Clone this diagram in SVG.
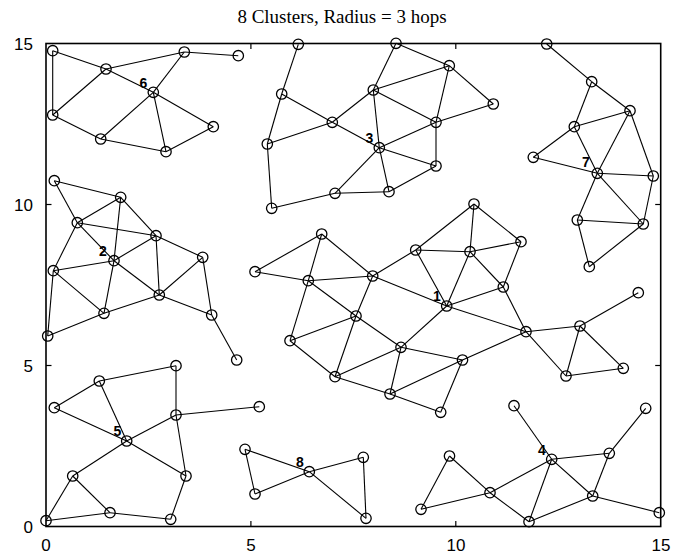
<svg xmlns="http://www.w3.org/2000/svg" width="683" height="556" viewBox="0 0 683 556">
<style>
.bg{fill:#fff}
.frame{fill:none;stroke:#000;stroke-width:1.6}
.tick{stroke:#000;stroke-width:1.2}
.edge line{stroke:#000;stroke-width:1.1}
.node circle{fill:none;stroke:#000;stroke-width:1.3}
.ax{font-family:"Liberation Sans",Arial,sans-serif;font-size:17px;fill:#000}
.title{font-family:"Liberation Serif","Times New Roman",serif;font-size:19px;fill:#000}
.hl{font-family:"Liberation Sans",Arial,sans-serif;font-size:14px;font-weight:bold;fill:#000}
</style>
<rect class="bg" x="0" y="0" width="683" height="556"/>
<text class="title" x="342" y="23" text-anchor="middle">8 Clusters, Radius = 3 hops</text>
<g id="axes">
<rect class="frame" x="46" y="43.5" width="614.7" height="483"/>
<line class="tick" x1="250.9" y1="526.5" x2="250.9" y2="521"/>
<line class="tick" x1="455.8" y1="526.5" x2="455.8" y2="521"/>
<line class="tick" x1="250.9" y1="43.5" x2="250.9" y2="49"/>
<line class="tick" x1="455.8" y1="43.5" x2="455.8" y2="49"/>
<line class="tick" x1="46" y1="365.5" x2="51.5" y2="365.5"/>
<line class="tick" x1="46" y1="204.5" x2="51.5" y2="204.5"/>
<line class="tick" x1="660.7" y1="365.5" x2="655.2" y2="365.5"/>
<line class="tick" x1="660.7" y1="204.5" x2="655.2" y2="204.5"/>
<text class="ax" x="33" y="50" text-anchor="end">15</text>
<text class="ax" x="33" y="211" text-anchor="end">10</text>
<text class="ax" x="33" y="372" text-anchor="end">5</text>
<text class="ax" x="33" y="533" text-anchor="end">0</text>
<text class="ax" x="46" y="551" text-anchor="middle">0</text>
<text class="ax" x="251" y="551" text-anchor="middle">5</text>
<text class="ax" x="456" y="551" text-anchor="middle">10</text>
<text class="ax" x="661" y="551" text-anchor="middle">15</text>
</g>
<g id="connectors" class="edge">
<line x1="52.7" y1="50.7" x2="52.7" y2="115"/>
<line x1="52.7" y1="50.7" x2="106" y2="69"/>
<line x1="106" y1="69" x2="184.3" y2="52"/>
<line x1="184.3" y1="52" x2="238.3" y2="55.7"/>
<line x1="106" y1="69" x2="153.3" y2="92.3"/>
<line x1="184.3" y1="52" x2="153.3" y2="92.3"/>
<line x1="106" y1="69" x2="52.7" y2="115"/>
<line x1="52.7" y1="115" x2="100.7" y2="139"/>
<line x1="100.7" y1="139" x2="153.3" y2="92.3"/>
<line x1="153.3" y1="92.3" x2="166" y2="151.7"/>
<line x1="153.3" y1="92.3" x2="213.3" y2="126.7"/>
<line x1="100.7" y1="139" x2="166" y2="151.7"/>
<line x1="166" y1="151.7" x2="213.3" y2="126.7"/>
<line x1="54.3" y1="180.7" x2="120.7" y2="197.3"/>
<line x1="54.3" y1="180.7" x2="77.3" y2="222.7"/>
<line x1="77.3" y1="222.7" x2="120.7" y2="197.3"/>
<line x1="120.7" y1="197.3" x2="114" y2="260.7"/>
<line x1="120.7" y1="197.3" x2="156" y2="235.7"/>
<line x1="77.3" y1="222.7" x2="156" y2="235.7"/>
<line x1="77.3" y1="222.7" x2="114" y2="260.7"/>
<line x1="77.3" y1="222.7" x2="53.3" y2="270.7"/>
<line x1="53.3" y1="270.7" x2="114" y2="260.7"/>
<line x1="114" y1="260.7" x2="156" y2="235.7"/>
<line x1="156" y1="235.7" x2="202.7" y2="257.3"/>
<line x1="114" y1="260.7" x2="104" y2="313.3"/>
<line x1="114" y1="260.7" x2="159.3" y2="295"/>
<line x1="156" y1="235.7" x2="159.3" y2="295"/>
<line x1="202.7" y1="257.3" x2="159.3" y2="295"/>
<line x1="202.7" y1="257.3" x2="211.7" y2="315"/>
<line x1="53.3" y1="270.7" x2="104" y2="313.3"/>
<line x1="53.3" y1="270.7" x2="47.7" y2="336"/>
<line x1="47.7" y1="336" x2="104" y2="313.3"/>
<line x1="104" y1="313.3" x2="159.3" y2="295"/>
<line x1="159.3" y1="295" x2="211.7" y2="315"/>
<line x1="211.7" y1="315" x2="236.7" y2="360"/>
<line x1="99.3" y1="381" x2="176" y2="365.7"/>
<line x1="176" y1="365.7" x2="176" y2="415"/>
<line x1="99.3" y1="381" x2="54.3" y2="407.7"/>
<line x1="99.3" y1="381" x2="126.7" y2="441"/>
<line x1="54.3" y1="407.7" x2="126.7" y2="441"/>
<line x1="126.7" y1="441" x2="176" y2="415"/>
<line x1="176" y1="415" x2="259.3" y2="406.7"/>
<line x1="126.7" y1="441" x2="72.7" y2="476"/>
<line x1="126.7" y1="441" x2="186" y2="476"/>
<line x1="176" y1="415" x2="186" y2="476"/>
<line x1="72.7" y1="476" x2="110" y2="512.7"/>
<line x1="72.7" y1="476" x2="46" y2="520.7"/>
<line x1="46" y1="520.7" x2="110" y2="512.7"/>
<line x1="110" y1="512.7" x2="170.7" y2="519.3"/>
<line x1="186" y1="476" x2="170.7" y2="519.3"/>
<line x1="245" y1="449.3" x2="255" y2="494"/>
<line x1="245" y1="449.3" x2="309.3" y2="471.7"/>
<line x1="255" y1="494" x2="309.3" y2="471.7"/>
<line x1="309.3" y1="471.7" x2="363.3" y2="457.3"/>
<line x1="309.3" y1="471.7" x2="366" y2="518.3"/>
<line x1="363.3" y1="457.3" x2="366" y2="518.3"/>
<line x1="298.3" y1="44.3" x2="281.7" y2="94"/>
<line x1="281.7" y1="94" x2="267.3" y2="144"/>
<line x1="281.7" y1="94" x2="332.3" y2="122.3"/>
<line x1="267.3" y1="144" x2="332.3" y2="122.3"/>
<line x1="332.3" y1="122.3" x2="373.3" y2="90"/>
<line x1="332.3" y1="122.3" x2="379.3" y2="147.7"/>
<line x1="267.3" y1="144" x2="271.7" y2="208.3"/>
<line x1="271.7" y1="208.3" x2="335" y2="193.3"/>
<line x1="335" y1="193.3" x2="379.3" y2="147.7"/>
<line x1="335" y1="193.3" x2="389" y2="191.7"/>
<line x1="379.3" y1="147.7" x2="389" y2="191.7"/>
<line x1="379.3" y1="147.7" x2="436" y2="166"/>
<line x1="389" y1="191.7" x2="436" y2="166"/>
<line x1="379.3" y1="147.7" x2="436" y2="122.3"/>
<line x1="379.3" y1="147.7" x2="373.3" y2="90"/>
<line x1="373.3" y1="90" x2="396" y2="43.3"/>
<line x1="373.3" y1="90" x2="449.3" y2="65.7"/>
<line x1="373.3" y1="90" x2="436" y2="122.3"/>
<line x1="396" y1="43.3" x2="449.3" y2="65.7"/>
<line x1="449.3" y1="65.7" x2="436" y2="122.3"/>
<line x1="436" y1="122.3" x2="436" y2="166"/>
<line x1="436" y1="122.3" x2="493.3" y2="104"/>
<line x1="449.3" y1="65.7" x2="493.3" y2="104"/>
<line x1="546.7" y1="44" x2="591.7" y2="81.7"/>
<line x1="591.7" y1="81.7" x2="630" y2="110.7"/>
<line x1="591.7" y1="81.7" x2="574.3" y2="126.7"/>
<line x1="574.3" y1="126.7" x2="630" y2="110.7"/>
<line x1="574.3" y1="126.7" x2="533.3" y2="157.3"/>
<line x1="574.3" y1="126.7" x2="597.3" y2="173.3"/>
<line x1="533.3" y1="157.3" x2="597.3" y2="173.3"/>
<line x1="630" y1="110.7" x2="597.3" y2="173.3"/>
<line x1="630" y1="110.7" x2="653.3" y2="176"/>
<line x1="597.3" y1="173.3" x2="653.3" y2="176"/>
<line x1="653.3" y1="176" x2="643.3" y2="224"/>
<line x1="597.3" y1="173.3" x2="643.3" y2="224"/>
<line x1="597.3" y1="173.3" x2="577.3" y2="220"/>
<line x1="577.3" y1="220" x2="643.3" y2="224"/>
<line x1="577.3" y1="220" x2="589.3" y2="266.7"/>
<line x1="589.3" y1="266.7" x2="643.3" y2="224"/>
<line x1="255" y1="271.7" x2="321.7" y2="234"/>
<line x1="255" y1="271.7" x2="308.3" y2="280.7"/>
<line x1="321.7" y1="234" x2="308.3" y2="280.7"/>
<line x1="321.7" y1="234" x2="372.7" y2="276"/>
<line x1="308.3" y1="280.7" x2="372.7" y2="276"/>
<line x1="372.7" y1="276" x2="415.7" y2="250"/>
<line x1="415.7" y1="250" x2="474" y2="204"/>
<line x1="415.7" y1="250" x2="470" y2="251.7"/>
<line x1="415.7" y1="250" x2="446.7" y2="306"/>
<line x1="372.7" y1="276" x2="446.7" y2="306"/>
<line x1="372.7" y1="276" x2="356" y2="316"/>
<line x1="308.3" y1="280.7" x2="290" y2="340.7"/>
<line x1="308.3" y1="280.7" x2="356" y2="316"/>
<line x1="474" y1="204" x2="470" y2="251.7"/>
<line x1="474" y1="204" x2="521" y2="241.7"/>
<line x1="470" y1="251.7" x2="521" y2="241.7"/>
<line x1="521" y1="241.7" x2="503.3" y2="287"/>
<line x1="470" y1="251.7" x2="503.3" y2="287"/>
<line x1="470" y1="251.7" x2="446.7" y2="306"/>
<line x1="503.3" y1="287" x2="446.7" y2="306"/>
<line x1="503.3" y1="287" x2="526" y2="331.7"/>
<line x1="446.7" y1="306" x2="526" y2="331.7"/>
<line x1="446.7" y1="306" x2="401" y2="347.3"/>
<line x1="290" y1="340.7" x2="356" y2="316"/>
<line x1="290" y1="340.7" x2="335" y2="376.7"/>
<line x1="356" y1="316" x2="401" y2="347.3"/>
<line x1="356" y1="316" x2="335" y2="376.7"/>
<line x1="401" y1="347.3" x2="335" y2="376.7"/>
<line x1="401" y1="347.3" x2="462.5" y2="360"/>
<line x1="401" y1="347.3" x2="390" y2="394"/>
<line x1="335" y1="376.7" x2="390" y2="394"/>
<line x1="390" y1="394" x2="440.7" y2="412.3"/>
<line x1="390" y1="394" x2="462.5" y2="360"/>
<line x1="440.7" y1="412.3" x2="462.5" y2="360"/>
<line x1="526" y1="331.7" x2="462.5" y2="360"/>
<line x1="526" y1="331.7" x2="580" y2="326"/>
<line x1="580" y1="326" x2="638.3" y2="292.7"/>
<line x1="580" y1="326" x2="566" y2="376"/>
<line x1="580" y1="326" x2="623.3" y2="368.3"/>
<line x1="566" y1="376" x2="623.3" y2="368.3"/>
<line x1="526" y1="331.7" x2="566" y2="376"/>
<line x1="514" y1="405.7" x2="551.7" y2="459.3"/>
<line x1="551.7" y1="459.3" x2="609.3" y2="453.3"/>
<line x1="609.3" y1="453.3" x2="645.7" y2="408.3"/>
<line x1="551.7" y1="459.3" x2="490" y2="492.7"/>
<line x1="551.7" y1="459.3" x2="529" y2="521.7"/>
<line x1="551.7" y1="459.3" x2="592.7" y2="496"/>
<line x1="609.3" y1="453.3" x2="592.7" y2="496"/>
<line x1="449.5" y1="456" x2="490" y2="492.7"/>
<line x1="490" y1="492.7" x2="529" y2="521.7"/>
<line x1="529" y1="521.7" x2="592.7" y2="496"/>
<line x1="592.7" y1="496" x2="659.3" y2="512.7"/>
<line x1="490" y1="492.7" x2="421" y2="509.3"/>
<line x1="449.5" y1="456" x2="421" y2="509.3"/>
</g>
<g id="node-A1" class="node"><circle cx="52.7" cy="50.7" r="5.2"/></g>
<g id="node-A2" class="node"><circle cx="106" cy="69" r="5.2"/></g>
<g id="node-A3" class="node"><circle cx="184.3" cy="52" r="5.2"/></g>
<g id="node-A4" class="node"><circle cx="238.3" cy="55.7" r="5.2"/></g>
<g id="node-A5" class="node"><circle cx="153.3" cy="92.3" r="5.2"/><text class="hl" x="143.5" y="88" text-anchor="middle">6</text></g>
<g id="node-A6" class="node"><circle cx="52.7" cy="115" r="5.2"/></g>
<g id="node-A7" class="node"><circle cx="100.7" cy="139" r="5.2"/></g>
<g id="node-A8" class="node"><circle cx="166" cy="151.7" r="5.2"/></g>
<g id="node-A9" class="node"><circle cx="213.3" cy="126.7" r="5.2"/></g>
<g id="node-B1" class="node"><circle cx="54.3" cy="180.7" r="5.2"/></g>
<g id="node-B2" class="node"><circle cx="120.7" cy="197.3" r="5.2"/></g>
<g id="node-B3" class="node"><circle cx="77.3" cy="222.7" r="5.2"/></g>
<g id="node-B4" class="node"><circle cx="156" cy="235.7" r="5.2"/></g>
<g id="node-B5" class="node"><circle cx="114" cy="260.7" r="5.2"/><text class="hl" x="103" y="256" text-anchor="middle">2</text></g>
<g id="node-B6" class="node"><circle cx="53.3" cy="270.7" r="5.2"/></g>
<g id="node-B7" class="node"><circle cx="202.7" cy="257.3" r="5.2"/></g>
<g id="node-C1" class="node"><circle cx="104" cy="313.3" r="5.2"/></g>
<g id="node-C2" class="node"><circle cx="159.3" cy="295" r="5.2"/></g>
<g id="node-C3" class="node"><circle cx="211.7" cy="315" r="5.2"/></g>
<g id="node-C4" class="node"><circle cx="47.7" cy="336" r="5.2"/></g>
<g id="node-C5" class="node"><circle cx="236.7" cy="360" r="5.2"/></g>
<g id="node-D1" class="node"><circle cx="176" cy="365.7" r="5.2"/></g>
<g id="node-D2" class="node"><circle cx="99.3" cy="381" r="5.2"/></g>
<g id="node-D3" class="node"><circle cx="54.3" cy="407.7" r="5.2"/></g>
<g id="node-D4" class="node"><circle cx="176" cy="415" r="5.2"/></g>
<g id="node-D5" class="node"><circle cx="126.7" cy="441" r="5.2"/><text class="hl" x="117.5" y="436" text-anchor="middle">5</text></g>
<g id="node-D6" class="node"><circle cx="72.7" cy="476" r="5.2"/></g>
<g id="node-D7" class="node"><circle cx="186" cy="476" r="5.2"/></g>
<g id="node-D8" class="node"><circle cx="110" cy="512.7" r="5.2"/></g>
<g id="node-D9" class="node"><circle cx="46" cy="520.7" r="5.2"/></g>
<g id="node-D10" class="node"><circle cx="170.7" cy="519.3" r="5.2"/></g>
<g id="node-E0" class="node"><circle cx="259.3" cy="406.7" r="5.2"/></g>
<g id="node-F1" class="node"><circle cx="245" cy="449.3" r="5.2"/></g>
<g id="node-F2" class="node"><circle cx="255" cy="494" r="5.2"/></g>
<g id="node-F3" class="node"><circle cx="309.3" cy="471.7" r="5.2"/><text class="hl" x="300" y="467" text-anchor="middle">8</text></g>
<g id="node-F4" class="node"><circle cx="363.3" cy="457.3" r="5.2"/></g>
<g id="node-F5" class="node"><circle cx="366" cy="518.3" r="5.2"/></g>
<g id="node-H1" class="node"><circle cx="298.3" cy="44.3" r="5.2"/></g>
<g id="node-H2" class="node"><circle cx="396" cy="43.3" r="5.2"/></g>
<g id="node-H3" class="node"><circle cx="449.3" cy="65.7" r="5.2"/></g>
<g id="node-H4" class="node"><circle cx="281.7" cy="94" r="5.2"/></g>
<g id="node-H5" class="node"><circle cx="373.3" cy="90" r="5.2"/></g>
<g id="node-H6" class="node"><circle cx="332.3" cy="122.3" r="5.2"/></g>
<g id="node-H7" class="node"><circle cx="436" cy="122.3" r="5.2"/></g>
<g id="node-H8" class="node"><circle cx="267.3" cy="144" r="5.2"/></g>
<g id="node-H9" class="node"><circle cx="379.3" cy="147.7" r="5.2"/><text class="hl" x="369.5" y="142.5" text-anchor="middle">3</text></g>
<g id="node-H10" class="node"><circle cx="436" cy="166" r="5.2"/></g>
<g id="node-H11" class="node"><circle cx="335" cy="193.3" r="5.2"/></g>
<g id="node-H12" class="node"><circle cx="389" cy="191.7" r="5.2"/></g>
<g id="node-H13" class="node"><circle cx="271.7" cy="208.3" r="5.2"/></g>
<g id="node-H14" class="node"><circle cx="493.3" cy="104" r="5.2"/></g>
<g id="node-J1" class="node"><circle cx="546.7" cy="44" r="5.2"/></g>
<g id="node-J2" class="node"><circle cx="591.7" cy="81.7" r="5.2"/></g>
<g id="node-J3" class="node"><circle cx="630" cy="110.7" r="5.2"/></g>
<g id="node-J4" class="node"><circle cx="574.3" cy="126.7" r="5.2"/></g>
<g id="node-J5" class="node"><circle cx="533.3" cy="157.3" r="5.2"/></g>
<g id="node-J6" class="node"><circle cx="597.3" cy="173.3" r="5.2"/><text class="hl" x="586" y="167" text-anchor="middle">7</text></g>
<g id="node-J7" class="node"><circle cx="653.3" cy="176" r="5.2"/></g>
<g id="node-J8" class="node"><circle cx="577.3" cy="220" r="5.2"/></g>
<g id="node-J9" class="node"><circle cx="643.3" cy="224" r="5.2"/></g>
<g id="node-J10" class="node"><circle cx="589.3" cy="266.7" r="5.2"/></g>
<g id="node-I1" class="node"><circle cx="321.7" cy="234" r="5.2"/></g>
<g id="node-I2" class="node"><circle cx="255" cy="271.7" r="5.2"/></g>
<g id="node-I3" class="node"><circle cx="308.3" cy="280.7" r="5.2"/></g>
<g id="node-I4" class="node"><circle cx="372.7" cy="276" r="5.2"/></g>
<g id="node-I5" class="node"><circle cx="415.7" cy="250" r="5.2"/></g>
<g id="node-K1" class="node"><circle cx="474" cy="204" r="5.2"/></g>
<g id="node-K2" class="node"><circle cx="470" cy="251.7" r="5.2"/></g>
<g id="node-K3" class="node"><circle cx="521" cy="241.7" r="5.2"/></g>
<g id="node-K4" class="node"><circle cx="503.3" cy="287" r="5.2"/></g>
<g id="node-G1" class="node"><circle cx="290" cy="340.7" r="5.2"/></g>
<g id="node-G2" class="node"><circle cx="356" cy="316" r="5.2"/></g>
<g id="node-G3" class="node"><circle cx="401" cy="347.3" r="5.2"/></g>
<g id="node-G4" class="node"><circle cx="335" cy="376.7" r="5.2"/></g>
<g id="node-G5" class="node"><circle cx="390" cy="394" r="5.2"/></g>
<g id="node-G6" class="node"><circle cx="440.7" cy="412.3" r="5.2"/></g>
<g id="node-G7" class="node"><circle cx="446.7" cy="306" r="5.2"/><text class="hl" x="437" y="300.5" text-anchor="middle">1</text></g>
<g id="node-G8" class="node"><circle cx="462.5" cy="360" r="5.2"/></g>
<g id="node-L2" class="node"><circle cx="526" cy="331.7" r="5.2"/></g>
<g id="node-L3" class="node"><circle cx="580" cy="326" r="5.2"/></g>
<g id="node-L4" class="node"><circle cx="638.3" cy="292.7" r="5.2"/></g>
<g id="node-L6" class="node"><circle cx="566" cy="376" r="5.2"/></g>
<g id="node-L7" class="node"><circle cx="623.3" cy="368.3" r="5.2"/></g>
<g id="node-M1" class="node"><circle cx="514" cy="405.7" r="5.2"/></g>
<g id="node-M2" class="node"><circle cx="645.7" cy="408.3" r="5.2"/></g>
<g id="node-M3" class="node"><circle cx="551.7" cy="459.3" r="5.2"/><text class="hl" x="542" y="454.5" text-anchor="middle">4</text></g>
<g id="node-M4" class="node"><circle cx="609.3" cy="453.3" r="5.2"/></g>
<g id="node-M5" class="node"><circle cx="449.5" cy="456" r="5.2"/></g>
<g id="node-M6" class="node"><circle cx="490" cy="492.7" r="5.2"/></g>
<g id="node-M7" class="node"><circle cx="592.7" cy="496" r="5.2"/></g>
<g id="node-M8" class="node"><circle cx="529" cy="521.7" r="5.2"/></g>
<g id="node-M9" class="node"><circle cx="659.3" cy="512.7" r="5.2"/></g>
<g id="node-N1" class="node"><circle cx="421" cy="509.3" r="5.2"/></g>
</svg>
